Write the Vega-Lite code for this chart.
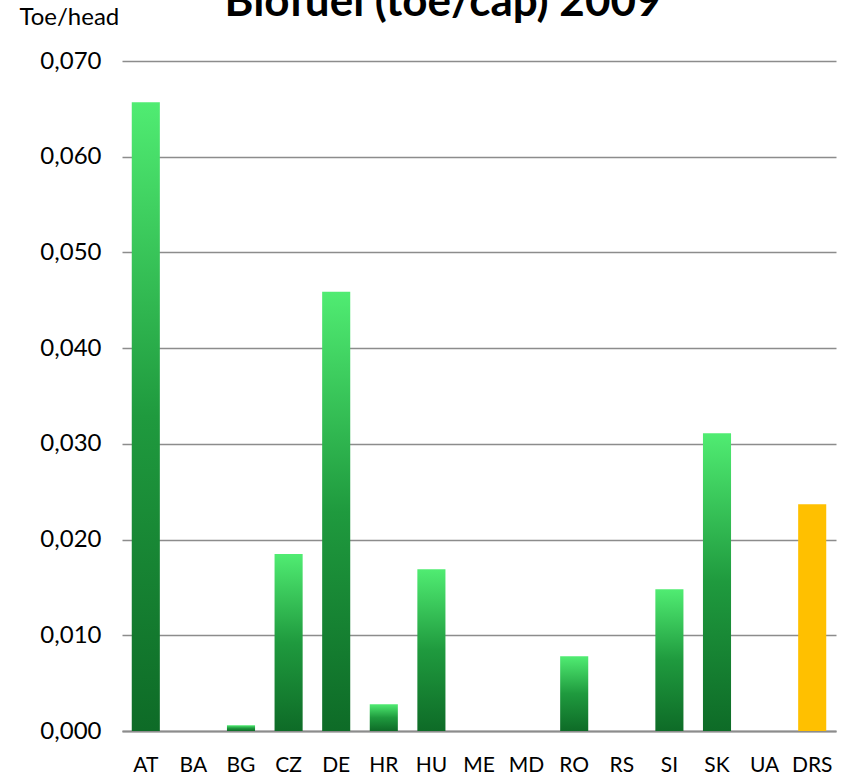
{
  "$schema": "https://vega.github.io/schema/vega-lite/v6.json",
  "autosize": {"type": "none"},
  "width": 714,
  "height": 670,
  "padding": {"left": 122, "top": 61, "right": 10, "bottom": 45},
  "background": "white",
  "title": {
    "text": "Biofuel (toe/cap) 2009",
    "font": "Lato",
    "fontSize": 44,
    "fontWeight": "bold",
    "color": "#000000",
    "anchor": "middle",
    "frame": "group",
    "baseline": "alphabetic",
    "dx": -36,
    "dy": 55,
    "offset": 0
  },
  "config": {
    "view": {"stroke": null},
    "font": "Lato"
  },
  "data": {
    "values": [
      {"country": "AT", "value": 0.0657},
      {"country": "BA", "value": 0},
      {"country": "BG", "value": 0.0006},
      {"country": "CZ", "value": 0.0185},
      {"country": "DE", "value": 0.0459},
      {"country": "HR", "value": 0.0028},
      {"country": "HU", "value": 0.0169},
      {"country": "ME", "value": 0},
      {"country": "MD", "value": 0},
      {"country": "RO", "value": 0.0078},
      {"country": "RS", "value": 0},
      {"country": "SI", "value": 0.0148},
      {"country": "SK", "value": 0.0311},
      {"country": "UA", "value": 0},
      {"country": "DRS", "value": 0.0237}
    ]
  },
  "encoding": {
    "x": {
      "field": "country",
      "type": "nominal",
      "sort": null,
      "scale": {"paddingInner": 0.41, "paddingOuter": 0.205},
      "axis": {
        "title": null,
        "labelAngle": 0,
        "labelFontSize": 21,
        "labelColor": "#000000",
        "labelPadding": 23,
        "ticks": false,
        "domain": true,
        "domainColor": "#8c8c8c",
        "domainWidth": 2
      }
    },
    "y": {
      "field": "value",
      "type": "quantitative",
      "scale": {"domain": [0, 0.07], "nice": false},
      "axis": {
        "values": [0, 0.01, 0.02, 0.03, 0.04, 0.05, 0.06, 0.07],
        "labelExpr": "replace(format(datum.value, '.3f'), '.', ',')",
        "labelFontSize": 24,
        "labelColor": "#000000",
        "labelPadding": 21,
        "ticks": false,
        "domain": false,
        "grid": true,
        "gridColor": "#8c8c8c",
        "gridWidth": 1.5,
        "title": "Toe/head",
        "titleAngle": 0,
        "titleAlign": "left",
        "titleBaseline": "middle",
        "titleX": -103,
        "titleY": -44,
        "titleFontSize": 24,
        "titleFontWeight": "normal",
        "titleColor": "#000000"
      }
    }
  },
  "layer": [
    {
      "transform": [{"filter": "datum.country !== 'DRS'"}],
      "mark": {
        "type": "bar",
        "color": {
          "gradient": "linear",
          "x1": 0, "y1": 1, "x2": 0, "y2": 0,
          "stops": [
            {"offset": 0, "color": "#0e6b27"},
            {"offset": 0.5, "color": "#1f9a3e"},
            {"offset": 1, "color": "#50ec72"}
          ]
        }
      }
    },
    {
      "transform": [{"filter": "datum.country === 'DRS'"}],
      "mark": {"type": "bar", "color": "#ffc000"}
    }
  ]
}
